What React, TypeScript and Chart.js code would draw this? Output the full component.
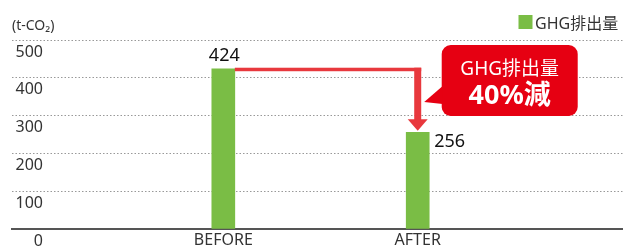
import { useEffect, useRef } from 'react';
import { Chart, registerables } from 'chart.js';

Chart.register(...registerables);

const categories = ['BEFORE', 'AFTER'];
const ghgValues = [424, 256];
const yTickValues = [0, 100, 200, 300, 400, 500];
const seriesLabel = 'GHG排出量';
const unitLabel = '(t-CO₂)';
const calloutLines = ['GHG排出量', '40%減'];

const FONT = '"Noto Sans", "Noto Sans CJK JP", sans-serif';
const GREEN = '#7abd45';
const RED = '#e60012';
const ARROW_RED = '#e8383d';

const overlayPlugin = {
  id: 'overlay',
  afterDraw(chart: any) {
    const ctx: CanvasRenderingContext2D = chart.ctx;
    const yScale = chart.scales.y;
    const area = chart.chartArea;
    const meta = chart.getDatasetMeta(0);
    const b0 = meta.data[0];
    const b1 = meta.data[1];
    const top = yScale.getPixelForValue(yTickValues[yTickValues.length - 1]);
    ctx.save();

    // y tick labels (below each gridline, right aligned)
    ctx.font = `16px ${FONT}`;
    ctx.fillStyle = '#333';
    ctx.textAlign = 'right';
    ctx.textBaseline = 'alphabetic';
    yTickValues.forEach((v) => {
      ctx.fillText(String(v), area.left + 31, yScale.getPixelForValue(v) + 16.5);
    });

    // unit label
    ctx.textAlign = 'left';
    ctx.font = `14px ${FONT}`;
    ctx.fillText(unitLabel, area.left, top - 10);

    // legend
    ctx.fillStyle = GREEN;
    ctx.fillRect(chart.width - 104.5, top - 25, 14, 14);
    ctx.fillStyle = '#333';
    ctx.font = `16px ${FONT}`;
    ctx.fillText(seriesLabel, chart.width - 88, top - 11);

    // value labels
    ctx.fillStyle = '#111';
    ctx.font = `18px ${FONT}`;
    ctx.textAlign = 'center';
    ctx.fillText(String(ghgValues[0]), b0.x + 1, b0.y - 8);
    ctx.textAlign = 'left';
    ctx.fillText(String(ghgValues[1]), b1.x + b1.width / 2 + 5, b1.y + 14.5);

    // arrow
    ctx.fillStyle = ARROW_RED;
    const right0 = b0.x + b0.width / 2;
    ctx.fillRect(right0, b0.y - 1, b1.x + 3.5 - right0, 3.5);
    ctx.fillRect(b1.x - 3.5, b0.y - 1, 7, b1.y - 12 - (b0.y - 1));
    ctx.beginPath();
    ctx.moveTo(b1.x - 10, b1.y - 13);
    ctx.lineTo(b1.x + 10, b1.y - 13);
    ctx.lineTo(b1.x, b1.y - 1.5);
    ctx.closePath();
    ctx.fill();

    // callout
    const bl = b1.x + 24;
    const br = b1.x + 160;
    const bt = top + 5;
    const bb = top + 76;
    ctx.fillStyle = RED;
    ctx.beginPath();
    ctx.roundRect(bl, bt, br - bl, bb - bt, 9);
    ctx.fill();
    ctx.beginPath();
    ctx.moveTo(bl + 1, top + 46);
    ctx.lineTo(b1.x + 6.5, top + 62);
    ctx.lineTo(bl + 1, top + 64);
    ctx.closePath();
    ctx.fill();
    ctx.fillStyle = '#fff';
    ctx.textAlign = 'center';
    const cx = (bl + br) / 2;
    ctx.font = `19px ${FONT}`;
    ctx.fillText(calloutLines[0], cx, top + 35);
    ctx.font = `bold 27px ${FONT}`;
    ctx.fillText(calloutLines[1], cx, top + 64);

    ctx.restore();
  },
};

export default function App() {
  const canvasRef = useRef<HTMLCanvasElement | null>(null);

  useEffect(() => {
    if (!canvasRef.current) return;
    const chart = new Chart(canvasRef.current, {
      type: 'bar',
      data: {
        datasets: [
          {
            label: seriesLabel,
            data: categories.map((_, i) => ({ x: i, y: ghgValues[i] })),
            backgroundColor: GREEN,
            barThickness: 23,
          },
        ],
      },
      options: {
        animation: false,
        responsive: false,
        layout: { padding: { top: 40, left: 12, right: 0, bottom: 0 } },
        plugins: { legend: { display: false }, tooltip: { enabled: false } },
        scales: {
          x: {
            type: 'linear',
            min: -1.087,
            max: 2.056,
            bounds: 'data',
            offset: false,
            z: 1,
            afterBuildTicks: (axis: any) => {
              axis.ticks = categories.map((_, i) => ({ value: i }));
            },
            ticks: {
              autoSkip: false,
              maxRotation: 0,
              padding: 3,
              color: '#333',
              font: { family: FONT, size: 16, lineHeight: 1 },
              callback: (v: any) => categories[v as number] ?? '',
            },
            grid: { display: false, drawTicks: false, offset: false },
            border: { display: true, color: '#555', width: 2 },
          },
          y: {
            min: 0,
            max: 500,
            ticks: { display: false, stepSize: 100 },
            grid: {
              drawTicks: false,
              color: (c: any) => (c.tick && c.tick.value === 0 ? 'rgba(0,0,0,0)' : '#999'),
              lineWidth: 1,
            },
            border: { display: false, dash: [1.5, 2] },
          },
        },
      },
      plugins: [overlayPlugin],
    });
    return () => chart.destroy();
  }, []);

  return (
    <div style={{ position: 'absolute', left: 0, top: 0, width: 623, height: 251, background: '#fff' }}>
      <canvas ref={canvasRef} width={623} height={251} style={{ display: 'block' }} />
    </div>
  );
}
